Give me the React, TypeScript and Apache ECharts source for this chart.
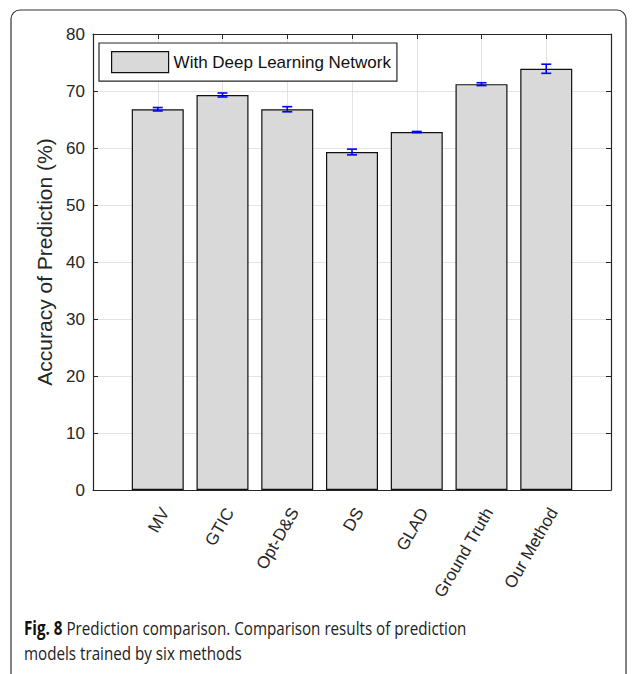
import React, { useEffect, useRef } from "react";
import * as echarts from "echarts";

const categories = ["MV", "GTIC", "Opt-D&S", "DS", "GLAD", "Ground Truth", "Our Method"];
const accuracy = [66.8, 69.3, 66.8, 59.3, 62.8, 71.2, 73.9];
const errors = [0.3, 0.35, 0.45, 0.5, 0.1, 0.25, 0.8];
const yTicks = [0, 10, 20, 30, 40, 50, 60, 70, 80];
const seriesName = "With Deep Learning Network";
const captionBold = "Fig. 8";
const captionLines = [
  " Prediction comparison. Comparison results of prediction",
  "models trained by six methods",
];

export default function App() {
  const ref = useRef<HTMLDivElement>(null);
  useEffect(() => {
    const chart = echarts.init(ref.current!, null, { renderer: "svg" });
    const barData = accuracy.map((v, i) => [i + 1, v]);
    const errData = accuracy.map((v, i) => [i + 1, v - errors[i], v + errors[i]]);
    const font = "'Liberation Sans', Arial, Helvetica, sans-serif";
    const capFont = "'Open Sans', 'Noto Sans', sans-serif";
    chart.setOption({
      animation: false,
      backgroundColor: "#fff",
      grid: { left: 93, top: 34, right: 26, bottom: 184, show: false },
      legend: {
        data: [seriesName],
        left: 99,
        top: 43,
        orient: "vertical",
        icon: "rect",
        itemWidth: 57,
        itemHeight: 21,
        itemGap: 0,
        padding: [8, 6, 8, 12],
        borderColor: "#262626",
        borderWidth: 1.2,
        backgroundColor: "#fff",
        textStyle: { fontFamily: font, fontSize: 17, color: "#111" },
        itemStyle: { color: "#d9d9d9", borderColor: "#111", borderWidth: 1.2 },
      },
      xAxis: [
        {
          type: "value",
          min: 0,
          max: 8,
          interval: 1,
          axisLine: { show: true, lineStyle: { color: "#262626", width: 1.2 } },
          axisTick: { show: true, inside: true, length: 5, lineStyle: { color: "#262626" } },
          splitLine: { show: true, lineStyle: { color: "#e3e3e3", width: 1 } },
          axisLabel: {
            rotate: 60,
            margin: 15,
            align: "right",
            verticalAlign: "top",
            fontFamily: font,
            fontSize: 17,
            color: "#262626",
            formatter: (v: number) => categories[v - 1] ?? "",
          },
        },
        {
          type: "value",
          position: "top",
          min: 0,
          max: 8,
          interval: 1,
          axisLine: { show: true, onZero: false, lineStyle: { color: "#262626", width: 1.2 } },
          axisTick: { show: true, inside: true, length: 5, lineStyle: { color: "#262626" } },
          splitLine: { show: false },
          axisLabel: { show: false },
        },
      ],
      yAxis: [
        {
          type: "value",
          min: 0,
          max: 80,
          interval: 10,
          name: "Accuracy of Prediction (%)",
          nameLocation: "middle",
          nameGap: 36,
          nameTextStyle: { fontFamily: font, fontSize: 21, color: "#262626" },
          axisLine: { show: true, lineStyle: { color: "#262626", width: 1.2 } },
          axisTick: { show: true, inside: true, length: 5, lineStyle: { color: "#262626" } },
          splitLine: { show: true, lineStyle: { color: "#e3e3e3", width: 1 } },
          axisLabel: {
            margin: 8,
            fontFamily: font,
            fontSize: 17,
            color: "#262626",
            formatter: (v: number) => (yTicks.includes(v) ? String(v) : ""),
          },
        },
        {
          type: "value",
          position: "right",
          min: 0,
          max: 80,
          interval: 10,
          axisLine: { show: true, onZero: false, lineStyle: { color: "#262626", width: 1.2 } },
          axisTick: { show: true, inside: true, length: 5, lineStyle: { color: "#262626" } },
          splitLine: { show: false },
          axisLabel: { show: false },
        },
      ],
      series: [
        {
          name: seriesName,
          type: "bar",
          xAxisIndex: 0,
          yAxisIndex: 0,
          data: barData,
          barWidth: 52,
          itemStyle: { color: "#d9d9d9", borderColor: "#111", borderWidth: 1.2 },
          z: 3,
        },
        {
          name: "err",
          type: "custom",
          xAxisIndex: 0,
          yAxisIndex: 0,
          data: errData,
          encode: { x: 0, y: [1, 2] },
          z: 5,
          renderItem: (params: any, api: any) => {
            const lo = api.coord([api.value(0), api.value(1)]);
            const hi = api.coord([api.value(0), api.value(2)]);
            const hw = 5;
            const st = { stroke: "#0000ff", lineWidth: 1.6 };
            return {
              type: "group",
              children: [
                { type: "line", shape: { x1: lo[0], y1: lo[1], x2: hi[0], y2: hi[1] }, style: st },
                { type: "line", shape: { x1: lo[0] - hw, y1: lo[1], x2: lo[0] + hw, y2: lo[1] }, style: st },
                { type: "line", shape: { x1: hi[0] - hw, y1: hi[1], x2: hi[0] + hw, y2: hi[1] }, style: st },
              ],
            };
          },
        },
      ],
      graphic: [
        {
          type: "rect",
          shape: { x: 11, y: 10, width: 615, height: 720, r: 9 },
          style: { fill: "none", stroke: "#333", lineWidth: 1.2 },
          silent: true,
          z: 100,
        },
        {
          type: "text",
          x: 24,
          y: 615,
          scaleX: 0.8,
          style: {
            text: "{b|" + captionBold + "}" + captionLines[0] + "\n" + captionLines[1],
            fontFamily: capFont,
            fontSize: 19,
            lineHeight: 25,
            fill: "#222",
            rich: {
              b: { fontWeight: "bold", fontFamily: capFont, fontSize: 19, lineHeight: 25, fill: "#111" },
            },
          },
        },
      ],
    });
    return () => chart.dispose();
  }, []);
  return (
    <div
      ref={ref}
      style={{ position: "absolute", left: 0, top: 0, width: 637, height: 674 }}
    />
  );
}
